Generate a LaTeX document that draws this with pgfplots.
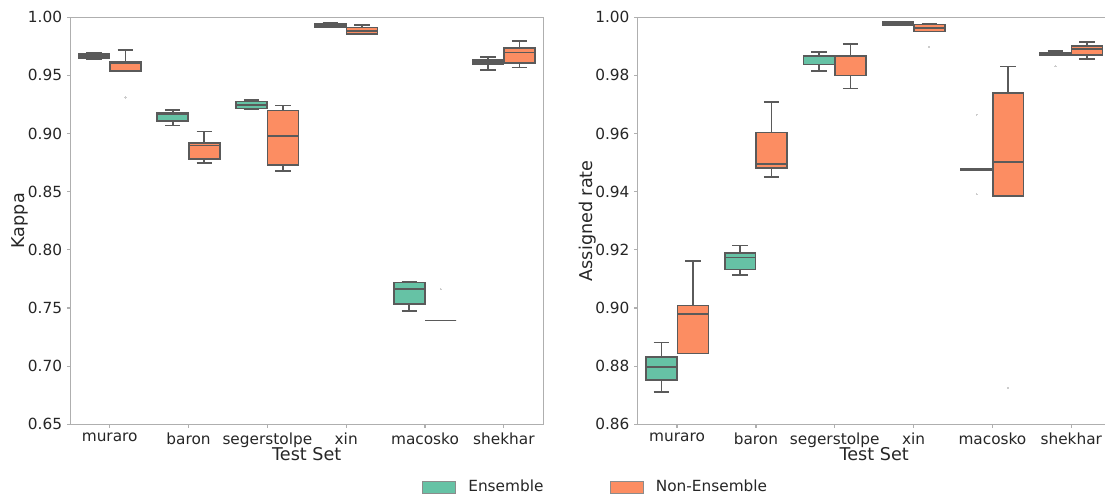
\documentclass[border=0pt]{standalone}
\usepackage{fontspec}
\setmainfont{DejaVu Sans}
\usepackage{pgfplots}
\pgfplotsset{compat=1.18}
\usetikzlibrary{calc}
\definecolor{ensG}{RGB}{102,194,165}
\definecolor{nonO}{RGB}{252,141,98}
\definecolor{edgegray}{RGB}{90,90,90}
\definecolor{spine}{RGB}{175,175,175}
\definecolor{txt}{RGB}{38,38,38}

% one box: #1 fill, #2 position, #3..#7 lower whisker, q1, median, q3, upper whisker
\newcommand\bx[7]{%
  \pgfmathsetmacro\xa{#2-0.196}\pgfmathsetmacro\xb{#2+0.196}%
  \pgfmathsetmacro\ca{#2-0.098}\pgfmathsetmacro\cb{#2+0.098}%
  \addplot[edge] coordinates {(#2,#3) (#2,#4)};
  \addplot[edge] coordinates {(#2,#6) (#2,#7)};
  \addplot[edge] coordinates {(\ca,#3) (\cb,#3)};
  \addplot[edge] coordinates {(\ca,#7) (\cb,#7)};
  \addplot[edge, fill=#1] coordinates {(\xa,#4) (\xb,#4) (\xb,#6) (\xa,#6)} -- cycle;
  \addplot[edge] coordinates {(\xa,#5) (\xb,#5)};
}

\pgfplotsset{
  edge/.style={draw=edgegray, line width=1.2pt, forget plot, solid, mark=none, line join=miter},
  outl/.style={only marks, forget plot, mark=*, mark size=0.45pt,
    mark options={draw=black!20, fill=black!20, line width=0pt}},
  panel/.style={
    scale only axis, width=354.75pt, height=305.25pt,
    xmin=-0.5, xmax=5.5,
    xtick={0,1,2,3,4,5},
    xticklabels={muraro,baron,segerstolpe,xin,macosko,shekhar},
    xlabel={Test Set},
    axis line style={spine, line width=0.9pt},
    tick style={spine, line width=0.9pt},
    tick align=outside, major tick length=2.6pt, tick pos=left,
    ticklabel style={font=\fontsize{11.5}{13}\selectfont, text=txt},
    label style={font=\fontsize{13.2}{15}\selectfont, text=txt},
    x label style={at={(axis description cs:0.5,-0.073)}, anchor=center},
    y label style={at={(axis description cs:-0.1065,0.5)}, anchor=center},
    /pgf/number format/assume math mode=true,
    yticklabel style={/pgf/number format/.cd, fixed, fixed zerofill, precision=2},
    clip=false,
  },
}

\begin{document}
\begin{tikzpicture}
\begin{axis}[panel, name=L,
    ymin=0.65, ymax=1.0, ytick={0.65,0.70,...,1.00}, ylabel={Kappa},
    legend columns=2,
    legend style={draw=none, at={(axis description cs:0.7436,-0.154)}, anchor=west,
      inner sep=0pt, outer sep=0pt, nodes={inner sep=0pt},
      font=\fontsize{11.5}{13}\selectfont, text=txt,
      /tikz/every even column/.append style={column sep=49.5pt}},
    legend image code/.code={\draw[#1] (0pt,-4.5pt) rectangle (24.75pt,4.5pt);
      \path[draw=none, fill=none] (0pt,0pt) -- (34.5pt,0pt);},
  ]
  \addlegendimage{fill=ensG, draw=black!45, line width=0.5pt}
  \addlegendentry{Ensemble}
  \addlegendimage{fill=nonO, draw=black!45, line width=0.5pt}
  \addlegendentry{Non-Ensemble}
  % muraro
  \bx{ensG}{-0.2}{0.9643}{0.9649}{0.9666}{0.9683}{0.9691}
  \bx{nonO}{0.2}{0.9540}{0.9540}{0.9605}{0.9620}{0.9720}
  % baron
  \bx{ensG}{0.8}{0.9069}{0.9110}{0.9165}{0.9177}{0.9200}
  \bx{nonO}{1.2}{0.8749}{0.8783}{0.8897}{0.8917}{0.9017}
  % segerstolpe
  \bx{ensG}{1.8}{0.9206}{0.9214}{0.9246}{0.9277}{0.9291}
  \bx{nonO}{2.2}{0.8677}{0.8728}{0.8977}{0.9197}{0.9240}
  % xin
  \bx{ensG}{2.8}{0.9912}{0.9918}{0.9930}{0.9943}{0.9950}
  \bx{nonO}{3.2}{0.9857}{0.9857}{0.9883}{0.9911}{0.9934}
  % macosko
  \bx{ensG}{3.8}{0.7475}{0.7532}{0.7663}{0.7720}{0.7729}
  \bx{nonO}{4.2}{0.7392}{0.7392}{0.7392}{0.7392}{0.7392}
  % shekhar
  \bx{ensG}{4.8}{0.9548}{0.9597}{0.9614}{0.9632}{0.9657}
  \bx{nonO}{5.2}{0.9568}{0.9606}{0.9697}{0.9737}{0.9794}
  % outliers
  \addplot[outl] coordinates {(0.2,0.931) (4.2,0.7663)};
\end{axis}
\begin{axis}[panel, name=R, at={(425.55pt,0)},
    ymin=0.86, ymax=1.0, ytick={0.86,0.88,...,1.00}, ylabel={Assigned rate},
  ]
  \bx{ensG}{-0.2}{0.8712}{0.8753}{0.8797}{0.8831}{0.8881}
  \bx{nonO}{0.2}{0.8843}{0.8843}{0.8980}{0.9008}{0.9162}
  \bx{ensG}{0.8}{0.9114}{0.9133}{0.9174}{0.9190}{0.9215}
  \bx{nonO}{1.2}{0.9451}{0.9481}{0.9495}{0.9603}{0.9709}
  \bx{ensG}{1.8}{0.9815}{0.9838}{0.9866}{0.9868}{0.9880}
  \bx{nonO}{2.2}{0.9755}{0.9800}{0.9865}{0.9868}{0.9907}
  \bx{ensG}{2.8}{0.9972}{0.9973}{0.9978}{0.9984}{0.9986}
  \bx{nonO}{3.2}{0.9951}{0.9951}{0.9964}{0.9975}{0.9979}
  \bx{ensG}{3.8}{0.9473}{0.9473}{0.9475}{0.9478}{0.9478}
  \bx{nonO}{4.2}{0.9385}{0.9385}{0.9503}{0.9739}{0.9831}
  \bx{ensG}{4.8}{0.9868}{0.9868}{0.9872}{0.9877}{0.9883}
  \bx{nonO}{5.2}{0.9857}{0.9871}{0.9890}{0.9902}{0.9915}
  \addplot[outl] coordinates {(3.2,0.9898) (3.8,0.9665) (3.8,0.9391) (4.2,0.8726) (4.8,0.9831)};
\end{axis}
\pgfresetboundingbox
\path[use as bounding box] ($(L.south west)+(-52.7pt,-55.3pt)$) rectangle ++(828.75pt,373.5pt);
\end{tikzpicture}
\end{document}
